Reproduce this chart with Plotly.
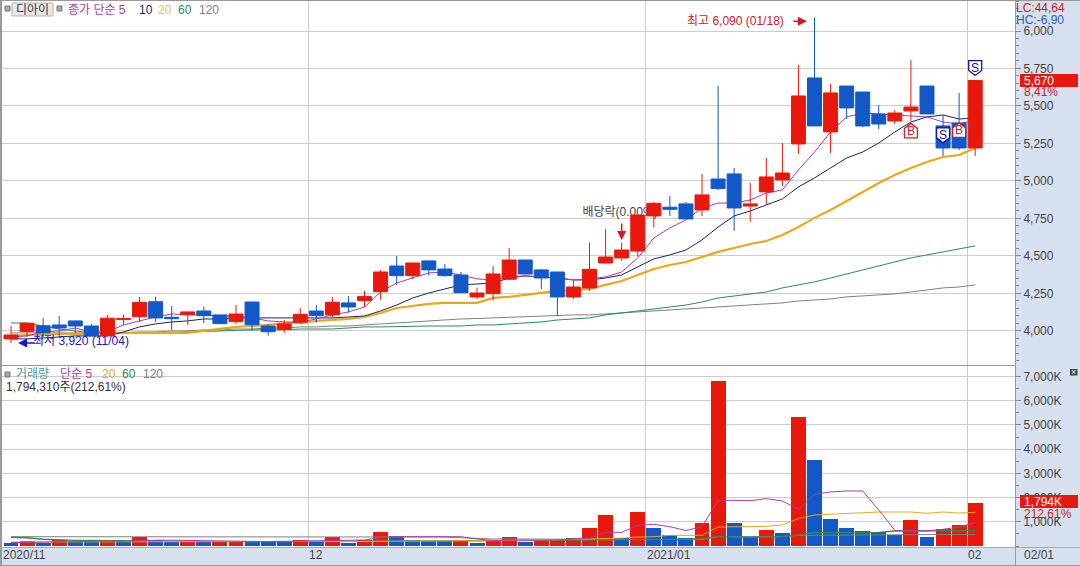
import plotly.graph_objects as go

# ---------- data ----------
opens = [3947,3997,4035,4040,4067,4033,3967,4077,4095,4195,4091,4109,4133,4107,4062,4193,4033,4011,4058,4133,4107,4187,4202,4262,4433,4369,4467,4413,4373,4227,4249,4345,4473,4407,4393,4227,4287,4453,4487,4533,4767,4825,4847,4807,5013,5047,4833,4927,5007,5247,5687,5327,5633,5593,5447,5400,5467,5633,5367,5387,5220]
closes = [3973,4052,3987,4020,4033,3967,4085,4083,4191,4087,4082,4127,4102,4049,4113,4042,3995,4047,4111,4102,4191,4160,4229,4393,4369,4453,4407,4369,4255,4253,4380,4473,4380,4353,4227,4293,4411,4493,4540,4773,4851,4811,4747,4907,4949,4820,4847,5027,5053,5567,5367,5587,5487,5367,5380,5453,5493,5447,5220,5220,5670]
highs = [4033,4052,4087,4100,4067,4047,4107,4107,4227,4229,4167,4127,4162,4107,4173,4193,4047,4073,4153,4173,4227,4233,4267,4407,4500,4453,4467,4447,4393,4289,4433,4553,4473,4411,4393,4333,4589,4680,4589,4773,4860,4900,4860,5047,5633,5087,4987,5153,5253,5773,6090,5647,5633,5593,5507,5473,5807,5633,5440,5587,5670]
lows = [3920,3960,3953,3960,3987,3967,3967,4040,4060,4060,4007,4040,4053,4049,4047,4000,3969,3987,4047,4055,4090,4122,4160,4207,4307,4345,4369,4362,4255,4213,4202,4340,4380,4280,4100,4213,4267,4451,4469,4497,4689,4767,4747,4767,4940,4667,4727,4840,4967,5180,5367,5187,5413,5360,5347,5380,5400,5447,5167,5207,5167]
ma5 = [3960,3967,3993,4000,4020,3993,3993,4040,4067,4093,4113,4107,4107,4100,4100,4087,4067,4060,4060,4080,4107,4127,4160,4260,4320,4353,4387,4393,4373,4347,4340,4360,4367,4360,4353,4340,4347,4360,4393,4487,4620,4687,4740,4820,4853,4853,4873,4920,4940,5073,5193,5327,5427,5453,5447,5440,5433,5427,5393,5380,5407]
ma10 = [3947,3947,3953,3960,3967,3967,3967,3993,4027,4047,4060,4067,4080,4080,4087,4087,4087,4087,4087,4087,4087,4093,4100,4133,4173,4220,4253,4280,4307,4313,4320,4353,4367,4360,4353,4340,4340,4353,4373,4427,4480,4507,4540,4607,4693,4767,4800,4840,4880,4960,5020,5087,5153,5193,5253,5327,5393,5427,5440,5413,5420]
ma20 = [3967,3973,3973,3980,3980,3980,3987,3987,3987,3987,3987,3987,4000,4013,4027,4033,4040,4053,4053,4067,4073,4080,4093,4120,4153,4167,4180,4187,4187,4187,4220,4227,4240,4253,4267,4273,4280,4307,4333,4373,4413,4440,4460,4493,4527,4553,4580,4600,4640,4693,4754,4807,4867,4927,4987,5040,5087,5127,5160,5173,5220]
ma60 = [4053,4053,4033,4013,4000,3987,3987,3987,3987,3987,3990,3993,3997,4000,4007,4007,4007,4007,4013,4013,4013,4020,4027,4027,4030,4030,4033,4033,4033,4040,4040,4047,4053,4060,4073,4080,4087,4107,4120,4133,4147,4160,4173,4193,4220,4233,4247,4260,4287,4307,4327,4353,4380,4407,4433,4460,4487,4507,4527,4547,4567]
ma120 = [3987,3987,3987,3987,3987,3987,3987,3987,3993,3993,4000,4000,4007,4007,4013,4013,4020,4020,4027,4027,4033,4033,4040,4047,4053,4060,4067,4073,4080,4083,4087,4093,4093,4100,4100,4107,4107,4113,4120,4127,4133,4140,4147,4153,4160,4167,4173,4180,4187,4200,4207,4213,4227,4233,4240,4247,4260,4273,4287,4293,4307]

volumes = [120,200,130,240,165,165,240,165,385,240,165,180,175,160,195,190,185,185,250,155,385,135,250,580,400,250,210,190,240,130,240,360,180,200,240,320,745,1280,320,1405,745,455,330,950,6815,950,370,660,535,5325,3555,1115,745,620,580,455,1075,370,700,865,1794]
vol_dir = list("brbrbbrbrbbrbrrbbbrbrbrrbbbbrbrrbrrrrrbrbbbrrbbrbrbbbbbbrbrrr")
vma5 = [140,150,160,190,180,180,200,190,230,240,240,230,210,190,180,180,180,190,200,190,220,210,250,340,385,385,385,385,385,290,230,240,230,240,250,270,317,565,565,854,895,799,640,790,1886,1886,1873,1955,1859,1515,2134,2231,2272,2272,1487,647,620,620,690,785,964]
vma20 = [165,165,165,165,165,165,165,165,165,165,165,165,165,170,170,170,175,175,180,180,185,185,190,195,200,200,205,205,210,215,220,225,230,250,250,270,290,300,330,372,385,440,440,441,785,800,812,812,867,1129,1281,1308,1363,1363,1405,1405,1405,1349,1405,1363,1391]
vma60 = [358,340,280,240,230,230,220,210,200,190,190,185,180,180,180,180,180,185,190,190,190,195,195,200,200,205,210,210,215,215,220,220,225,230,235,240,245,250,250,250,260,275,290,303,400,380,358,370,385,454,565,550,565,565,565,620,620,620,625,630,633]
vma120 = [385,385,385,385,385,385,385,385,385,385,385,385,385,385,385,385,385,385,385,385,385,385,385,385,385,385,385,370,340,300,290,290,290,290,290,290,290,290,290,290,285,280,270,265,385,395,395,395,395,440,445,450,455,460,468,470,472,475,478,480,482]

price_ticks = [4000,4250,4500,4750,5000,5250,5500,5750,6000]
price_labels = ["4,000","4,250","4,500","4,750","5,000","5,250","5,500","5,750","6,000"]
vol_ticks = [1000,2000,3000,4000,5000,6000,7000]
vol_labels = ["1,000K","2,000K","3,000K","4,000K","5,000K","6,000K","7,000K"]
month_edges = [18.5,39.5,59.5]

signal_idx = [56,58,59,60]
signal_price = [5334,5304,5337,5753]
signal_text = ["B","S","B","S"]

# ---------- styles ----------
W, H = 1080, 566
RED, BLUE = "#e8190c", "#1258c8"
C5, C10, C20, C60, C120 = "#b03aa8", "#16246e", "#e8a81c", "#2e8b57", "#808080"
PANEL, GRID = "#d6e0ef", "#cccccc"
SANS = "Liberation Sans, Noto Sans CJK KR, sans-serif"

idx = list(range(len(opens)))
x_range = [(0 - 11) / 16.07, (1015 - 11) / 16.07]

fig = go.Figure()

# price lines (under candles)
for vals, col, w in [(ma120, C120, 1), (ma60, C60, 1), (ma20, C20, 2.2), (ma10, C10, 1), (ma5, C5, 1)]:
    fig.add_trace(go.Scatter(x=idx, y=vals, mode="lines", line=dict(color=col, width=w), xaxis="x", yaxis="y", showlegend=False))

fig.add_trace(go.Scatter(x=[37.9], y=[4787], mode="text", text=["배당락(0.00%)"], textfont=dict(family=SANS, size=12, color="#444444"),
                         xaxis="x", yaxis="y", showlegend=False))

fig.add_trace(go.Candlestick(
    x=idx, open=opens, high=highs, low=lows, close=closes, xaxis="x", yaxis="y3", showlegend=False,
    increasing=dict(line=dict(color=RED, width=1), fillcolor=RED),
    decreasing=dict(line=dict(color=BLUE, width=1), fillcolor=BLUE),
    whiskerwidth=0))

# volume
fig.add_trace(go.Bar(x=idx, y=volumes, marker=dict(color=[RED if d == "r" else BLUE for d in vol_dir], line=dict(width=0)),
                     width=0.93, xaxis="x2", yaxis="y2", showlegend=False))
for vals, col, w in [(vma120, C120, 1), (vma60, C60, 1.3), (vma20, C20, 1), (vma5, C5, 1)]:
    fig.add_trace(go.Scatter(x=idx, y=vals, mode="lines", line=dict(color=col, width=w), xaxis="x2", yaxis="y2", showlegend=False))


def px(x):
    return x / W


def py(y):
    return 1 - y / H


annotations = []


def label(x, y, text, color, size=12, anchor="left"):
    annotations.append(dict(xref="paper", yref="paper", x=px(x), y=py(y), text=text, showarrow=False,
                            xanchor=anchor, yanchor="middle", font=dict(family=SANS, size=size, color=color), borderpad=0, borderwidth=0))


shapes = []


def rect(x0, y0, x1, y1, fill, line=None, layer="above"):
    shapes.append(dict(type="rect", xref="paper", yref="paper", x0=px(x0), x1=px(x1), y0=py(y0), y1=py(y1), fillcolor=fill,
                       line=dict(color=line or fill, width=1 if line else 0), layer=layer))


# frame & panels
rect(0, 0, 2, 566, "#999999")
rect(0, 0, 1080, 1, "#999999")
rect(0, 365, 1015, 366, "#999999")
rect(0, 547, 1080, 548, "#aaaaaa")
rect(0, 565, 1080, 566, "#999999")
rect(1015, 0, 1016, 566, "#999999")

# price legend
rect(5, 6, 10, 11, "#aaaaaa", "#777777")
rect(12, 3, 53, 16, "#e8e8e8", "#b5b5b5")
rect(57, 6, 62, 11, "#aaaaaa", "#777777")
label(16, 10, "디아이", "#333333")
label(68, 10, "종가 단순 5", C5)
label(139, 10, "10", C10)
label(158, 10, "20", "#e8c830")
label(178, 10, "60", C60)
label(199, 10, "120", C120)

# volume legend
rect(5, 372, 10, 377, "#aaaaaa", "#777777")
label(16, 374, "거래량", "#4a9a9a")
label(60, 374, "단순 5", C5)
label(102, 374, "20", C20)
label(122, 374, "60", C60)
label(143, 374, "120", C120)
label(6, 387, "1,794,310주(212,61%)", "#333333")

# right panel
label(1016, 8, "LC:44,64", "#c8202a")
label(1016, 20, "HC:-6,90", "#2a60b0")
rect(1020, 74, 1078, 87, RED)
label(1024, 80.5, "5,670", "#ffffff")
label(1024, 92, "8,41%", "#c8202a")
rect(1020, 495, 1078, 508, RED)
label(1024, 501.5, "1,794K", "#ffffff")
label(1024, 514, "212,61%", "#c8202a")
rect(1070, 369, 1077.5, 375.5, "#444444")
label(1073.7, 372, "×", "#ffffff", 9, "center")

# x labels
label(3, 555, "2020/11", "#444444")
label(309, 555, "12", "#444444")
label(647, 555, "2021/01", "#444444")
label(968, 555, "02", "#444444")
label(1024, 555, "02/01", "#444444")

# event labels
label(687, 21, "최고 6,090 (01/18)", "#c8202a")
label(33, 341, "최저 3,920 (11/04)", "#1414c8")

for xv, yv, ax, ay, col in [(49.53, 6065, -15, 0, "#d8141e"), (0.44, 3920, 18, 0, "#1414c8"), (38, 4607, 0, -18, "#d8141e")]:
    annotations.append(dict(xref="x", yref="y", x=xv, y=yv, ax=ax, ay=ay, axref="pixel", ayref="pixel", text="", showarrow=True,
                            arrowhead=2, arrowsize=1.2, arrowwidth=1.5, arrowcolor=col))

# signal badges
for i, p, t in zip(signal_idx, signal_price, signal_text):
    col = "#1414a0" if t == "S" else "#c8202a"
    path = "M -6.5 7.5 L 6.5 7.5 L 6.5 -2.5 L 0 -7.5 L -6.5 -2.5 Z" if t == "S" else "M -6.5 -7 L 6.5 -7 L 6.5 2.5 L 0 7.5 L -6.5 2.5 Z"
    shapes.append(dict(type="path", xsizemode="pixel", ysizemode="pixel", xref="x", yref="y", xanchor=i, yanchor=p,
                       path=path, fillcolor="#ffffff", line=dict(color=col, width=1.3), layer="above"))
    annotations.append(dict(xref="x", yref="y", x=i, y=p, text=t, showarrow=False, xanchor="center", yanchor="middle",
                            font=dict(family=SANS, size=12, color=col)))

minor_price = dict(dtick=50, tick0=0, ticks="outside", ticklen=3, tickcolor="#888888", showgrid=False)
minor_vol = dict(dtick=500, tick0=0, ticks="outside", ticklen=3, tickcolor="#888888", showgrid=False)
price_range = [3773, 6200]
vol_range = [-41, 7434]

fig.update_layout(
    width=W, height=H, margin=dict(l=0, r=0, t=0, b=0, pad=0), autosize=False, showlegend=False,
    paper_bgcolor=PANEL, plot_bgcolor="#ffffff", boxgap=0.13, boxgroupgap=0, bargap=0,
    font=dict(family=SANS, size=12, color="#444444"),
    xaxis=dict(domain=[0, 1015 / W], range=x_range, anchor="y", tickmode="array", tickvals=month_edges, showticklabels=False,
               showgrid=True, gridcolor=GRID, gridwidth=1, zeroline=False, ticks="", rangeslider=dict(visible=False), fixedrange=True),
    xaxis2=dict(domain=[0, 1015 / W], range=x_range, anchor="y2", tickmode="array", tickvals=month_edges, showticklabels=False,
                showgrid=True, gridcolor=GRID, gridwidth=1, zeroline=False, ticks="", fixedrange=True),
    yaxis=dict(domain=[1 - 365 / H, 1 - 1 / H], range=price_range, side="right", anchor="x", tickmode="array", tickvals=price_ticks,
               ticktext=price_labels, showgrid=True, gridcolor=GRID, gridwidth=1, zeroline=False, ticks="outside", ticklen=5, tickcolor="#888888",
               tickfont=dict(family=SANS, size=12, color="#444444"), minor=minor_price, fixedrange=True),
    yaxis3=dict(overlaying="y", range=price_range, side="right", anchor="x", showgrid=False, showticklabels=False, zeroline=False, ticks="", fixedrange=True),
    yaxis2=dict(domain=[1 - 547 / H, 1 - 366 / H], range=vol_range, side="right", anchor="x2", tickmode="array", tickvals=vol_ticks,
                ticktext=vol_labels, showgrid=True, gridcolor=GRID, gridwidth=1, zeroline=False, ticks="outside", ticklen=5, tickcolor="#888888",
                tickfont=dict(family=SANS, size=12, color="#444444"), minor=minor_vol, fixedrange=True),
    annotations=annotations, shapes=shapes,
)

fig.write_html("out.html", config=dict(displayModeBar=False),
               post_script="document.body.style.margin='0';document.body.style.overflow='hidden';")
